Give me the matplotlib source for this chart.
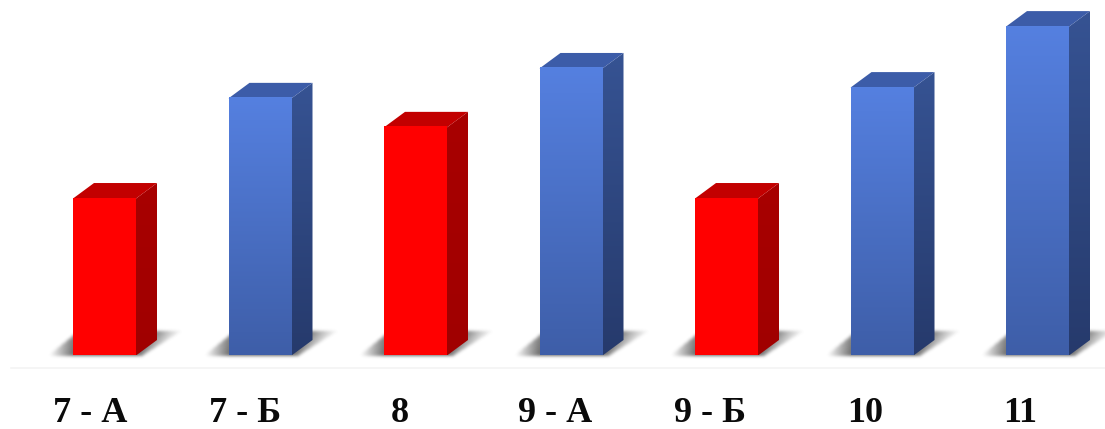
import numpy as np
import matplotlib
matplotlib.use("Agg")
import matplotlib.pyplot as plt
from matplotlib.patches import Polygon

classes = ["7 - А", "7 - Б", "8", "9 - А", "9 - Б", "10", "11"]
values = [5.25, 8.6, 7.63, 9.6, 5.25, 8.96, 11.0]
highlight = [True, False, True, False, True, False, False]

W, H = 1105, 429
PX_X = 155.5      # pixels per category
PX_Y = 29.9       # pixels per value unit
X0 = 104.5        # pixel centre of first bar
BASE = 355.5      # pixel row of the baseline

bar_w = 63 / PX_X
dx = 21 / PX_X
dy = 15.5 / PX_Y

RED = {"front": ("#ff0000", "#ff0000"), "side": ("#a80000", "#a00000"), "top": "#c20000"}
BLUE = {"front": ("#5580e0", "#3e5ea8"), "side": ("#365393", "#263a6c"), "top": "#3c5ca8"}


def gradient(c_top, c_bottom, n=200):
    a = np.array(matplotlib.colors.to_rgb(c_top))
    b = np.array(matplotlib.colors.to_rgb(c_bottom))
    t = np.linspace(0, 1, n)[:, None, None]
    return a[None, None, :] * (1 - t) + b[None, None, :] * t


def shadow_image():
    # soft skewed shadow, in pixel cells, drawn under each bar
    h, w = 36, 150
    yy, xx = np.mgrid[0:h, 0:w]
    t = (h - 6 - yy) / 24.0                 # 0 at the floor line, 1 at the far edge
    left = 6 + t * 30
    right = 100 + t * 38
    mask = ((t >= 0) & (t <= 1) & (xx >= left) & (xx <= right)).astype(float)
    # fade out away from the bar on both sides, and towards the far edge
    lx = xx - 31.0
    fade = np.where(lx < 0, np.clip(1 + lx / 24.0, 0, 1), 1.0)
    rx = xx - (94 + t * 21)
    fade = np.where(rx > 0, np.clip(1 - rx / 30.0, 0, 1) ** 1.5, fade)
    alpha = mask * fade * (1 - 0.2 * t) * 0.8
    for _ in range(6):
        alpha = (alpha + np.roll(alpha, 1, 0) + np.roll(alpha, -1, 0)
                 + np.roll(alpha, 1, 1) + np.roll(alpha, -1, 1)) / 5
    img = np.zeros((h, w, 4))
    img[..., :3] = 0.28
    img[..., 3] = alpha
    return img


fig = plt.figure(figsize=(W / 100, H / 100), dpi=100)
ax = fig.add_axes([0, 0, 1, 1])
ax.axis("off")

xlim = (-X0 / PX_X, (W - X0) / PX_X)
ylim = ((BASE - H) / PX_Y, BASE / PX_Y)

shadow = shadow_image()

# faint floor line
ax.plot([-94 / PX_X, xlim[1]], [-12 / PX_Y, -12 / PX_Y], color="#f4f4f4", lw=1.2, zorder=1)

for i, (v, hot) in enumerate(zip(values, highlight)):
    c = RED if hot else BLUE
    x1 = i - bar_w / 2
    x2 = i + bar_w / 2

    ax.imshow(shadow, extent=[x1 - 31 / PX_X, x1 + 119 / PX_X, -6 / PX_Y, 30 / PX_Y],
              aspect="auto", origin="upper", zorder=2, interpolation="bilinear")

    # side face
    side = Polygon([(x2, 0), (x2 + dx, dy), (x2 + dx, v + dy), (x2, v)], closed=True,
                   facecolor="none", edgecolor="none", transform=ax.transData)
    ax.add_patch(side)
    im = ax.imshow(gradient(*c["side"]), extent=[x2, x2 + dx, 0, v + dy], aspect="auto", zorder=3)
    im.set_clip_path(side)

    # top face
    ax.add_patch(Polygon([(x1, v), (x1 + dx, v + dy), (x2 + dx, v + dy), (x2, v)], closed=True,
                         facecolor=c["top"], edgecolor="none", zorder=3))

    # front face
    ax.imshow(gradient(*c["front"]), extent=[x1, x2, 0, v], aspect="auto", zorder=4)

    # labels sit a little left of the bars and run on a slightly tighter step
    ax.text((i * 155 - 14.5) / PX_X, -58 / PX_Y, classes[i], ha="center", va="center",
            fontfamily="Liberation Serif", fontweight="bold", fontsize=26, color="#0a0a0a", zorder=5)

ax.set_xlim(xlim)
ax.set_ylim(ylim)

fig.savefig("out.png", dpi=100)
